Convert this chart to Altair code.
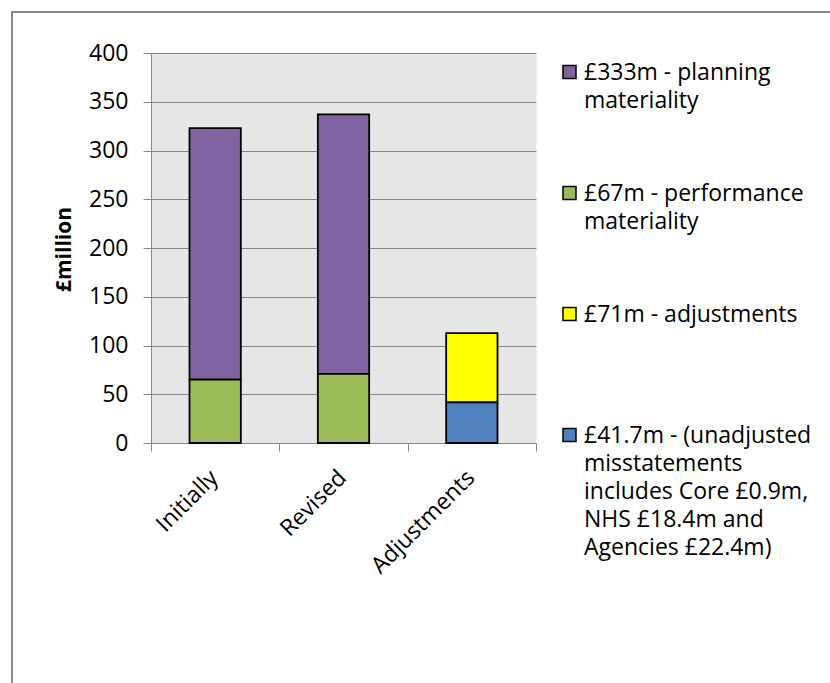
import altair as alt
import pandas as pd

categories = ["Initially", "Revised", "Adjustments"]
series = [
    "£333m - planning\nmateriality",
    "£67m - performance\nmateriality",
    "£71m - adjustments",
    "£41.7m - (unadjusted\nmisstatements\nincludes Core £0.9m,\nNHS £18.4m and\nAgencies £22.4m)",
]
colors = ["#8064A2", "#9BBB59", "#FFFF00", "#4F81BD"]
planning = [258, 266, None]
performance = [65, 71, None]
adjustments = [None, None, 71]
unadjusted = [None, None, 41.7]
stack_rank = [1, 0, 1, 0]
y_ticks = [0, 50, 100, 150, 200, 250, 300, 350, 400]

rows = []
for s, vals, rank in zip(series, [planning, performance, adjustments, unadjusted], stack_rank):
    for c, v in zip(categories, vals):
        if v is not None:
            rows.append({"category": c, "series": s, "value": v, "rank": rank})
df = pd.DataFrame(rows)

FONT = "Open Sans"
GRAY = "#878787"

# pad every legend label to at least 3 lines so the rows are evenly spaced
label_expr = (
    "length(split(datum.label, '\\n')) == 1 ? split(datum.label + '\\n\\n', '\\n') : "
    "length(split(datum.label, '\\n')) == 2 ? split(datum.label + '\\n', '\\n') : "
    "split(datum.label, '\\n')"
)

border = alt.Chart(pd.DataFrame({"k": [0]})).mark_rect(
    fill="white", fillOpacity=0, stroke=GRAY, strokeWidth=2
).encode(
    x=alt.value(-139), x2=alt.value(720), y=alt.value(-41), y2=alt.value(700)
)

bars = alt.Chart(df).mark_bar(
    stroke="black", strokeWidth=1.8, width=alt.RelativeBandSize(0.4)
).encode(
    x=alt.X(
        "category:N", sort=categories,
        scale=alt.Scale(paddingInner=0, paddingOuter=0),
        axis=alt.Axis(
            title=None, labelAngle=-45, labelFont=FONT, labelFontSize=23,
            labelColor="black", tickBand="extent", tickSize=8, tickColor=GRAY,
            domainColor=GRAY, labelPadding=15, labelOffset=-9, grid=False,
        ),
    ),
    y=alt.Y(
        "value:Q", stack="zero",
        scale=alt.Scale(domain=[0, 400], nice=False),
        axis=alt.Axis(
            values=y_ticks, title="£million", titleFont=FONT, titleFontSize=21,
            titleFontWeight="bold", titleColor="black", titleX=-77, titleY=196,
            labelFont=FONT, labelFontSize=23, labelColor="black", labelPadding=15,
            tickSize=8, tickColor=GRAY, domainColor=GRAY, gridColor=GRAY,
            gridWidth=1, grid=True,
        ),
    ),
    color=alt.Color(
        "series:N",
        scale=alt.Scale(domain=series, range=colors),
        legend=alt.Legend(
            title=None, orient="none", legendX=407, legendY=15,
            direction="vertical", symbolType="M-1,-2.154H1V-0.154H-1Z",
            symbolSize=169, symbolStrokeColor="black", symbolStrokeWidth=1.5,
            symbolOpacity=1, labelFont=FONT, labelFontSize=23, labelColor="black",
            labelLimit=600, labelOffset=3, labelBaseline="alphabetic",
            labelExpr=label_expr, gridAlign="each",
            rowPadding=41, padding=0,
        ),
    ),
    order=alt.Order("rank:Q"),
)

chart = alt.layer(border, bars).properties(
    width=385, height=390,
    autosize=alt.AutoSizeParams(type="none"),
    padding={"left": 151, "top": 53, "right": 294, "bottom": 240},
    background="white",
).configure(
    view=alt.ViewConfig(fill="#E6E6E6", stroke="transparent"),
    style={"guide-label": {"lineHeight": 28}},
)

chart.save("out.html", embed_options={"renderer": "svg", "actions": False})
